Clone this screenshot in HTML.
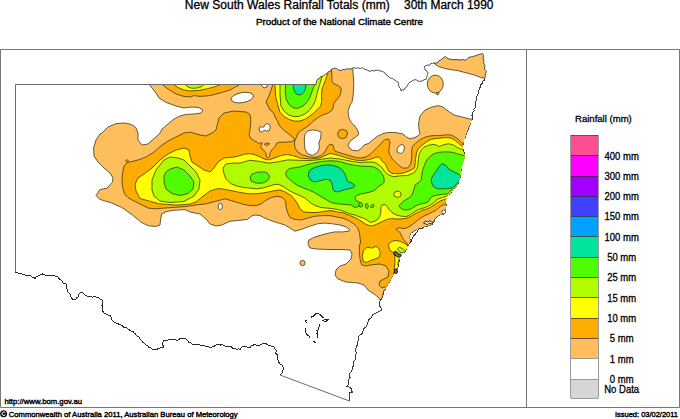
<!DOCTYPE html>
<html><head><meta charset="utf-8"><style>
html,body{margin:0;padding:0;background:#fff;}
svg{display:block;font-family:"Liberation Sans",sans-serif;}
.lg{font-size:10px;fill:#000;stroke:#000;stroke-width:0.3px;}
.tt{fill:#000;stroke:#000;stroke-width:0.25px;}
</style></head><body>
<svg width="680" height="419" viewBox="0 0 680 419">
<defs><clipPath id="nsw"><polygon points="15.5,84.5 316.0,84.5 317.8,79.1 322.5,76.3 327.1,73.6 330.2,71.3 331.8,69.0 334.9,68.2 338.0,70.0 341.0,70.6 345.0,69.8 350.0,68.8 355.0,68.0 356.0,68.4 362.0,67.6 365.0,69.4 369.0,71.0 375.0,70.4 380.0,71.0 385.0,73.0 388.0,76.0 390.0,78.0 394.0,79.6 398.0,82.0 399.0,87.0 401.0,91.0 404.0,90.0 407.0,86.0 410.0,82.0 415.0,79.6 418.0,81.0 421.0,81.0 426.0,79.6 427.0,76.0 428.0,73.0 425.0,70.0 424.0,67.0 428.0,65.0 434.0,63.0 438.0,62.4 442.0,59.0 444.0,57.0 447.0,58.0 450.0,59.0 454.0,59.6 458.0,59.6 462.0,59.5 465.0,60.3 468.8,57.4 470.7,57.0 474.6,56.0 477.4,55.0 480.3,54.1 482.7,53.6 483.6,55.5 484.1,64.1 485.1,69.8 486.5,71.3 485.5,73.7 485.0,78.0 484.1,80.3 482.0,83.5 479.0,90.0 477.0,96.0 477.0,99.0 475.0,106.0 473.0,114.0 472.0,120.0 470.0,125.0 468.1,128.0 466.2,134.2 463.8,141.8 462.5,146.8 463.1,151.8 465.0,156.1 463.8,160.5 461.9,165.5 460.6,171.8 460.6,175.0 458.8,181.2 456.2,186.2 452.5,190.0 450.0,193.8 447.6,195.0 445.9,200.0 445.1,203.3 446.3,204.2 445.9,206.7 445.5,210.0 445.1,212.5 443.4,214.2 440.0,214.8 437.0,216.6 434.6,219.0 433.4,221.9 432.2,224.3 429.9,225.5 426.9,226.1 423.9,226.7 420.3,227.9 419.7,228.0 416.7,229.2 413.7,231.0 410.7,233.3 409.5,235.7 409.8,238.7 410.7,240.5 410.1,242.3 408.9,244.1 407.8,245.9 407.3,246.7 404.8,251.7 401.5,254.5 399.8,256.6 398.6,262.8 397.4,267.8 394.9,271.5 393.0,275.0 391.1,279.0 389.0,282.5 387.4,285.2 384.9,290.0 384.0,291.0 383.0,295.0 382.0,298.0 380.0,301.0 379.0,305.0 381.0,308.0 382.0,310.0 378.0,312.0 374.0,314.0 371.0,318.0 368.0,322.0 366.0,327.0 363.0,331.0 360.0,335.0 358.5,337.0 357.0,342.0 356.0,348.0 356.0,356.0 354.0,364.0 351.0,372.0 349.0,379.0 348.6,382.9 347.9,385.0 346.8,386.4 350.0,387.2 351.5,389.3 352.2,392.2 349.7,392.5 349.3,394.3 349.3,398.6 349.7,401.1 280.0,375.0 281.0,374.0 282.0,371.0 284.0,369.0 283.0,367.0 280.0,364.0 278.0,360.0 277.0,356.0 276.0,350.0 274.0,347.0 270.0,345.0 266.0,343.6 262.0,344.0 258.0,345.0 254.0,344.4 250.0,347.6 244.0,346.4 240.0,349.6 234.0,348.4 228.0,346.4 222.0,344.4 216.0,345.0 212.0,347.0 206.0,346.4 200.0,345.0 196.0,344.4 192.0,344.0 188.0,341.0 183.0,338.0 178.0,340.0 170.0,339.0 164.0,340.0 162.0,343.0 163.0,348.0 161.0,347.0 158.0,348.6 155.0,350.0 150.0,347.6 146.0,345.0 142.0,341.0 139.0,337.0 134.0,333.0 130.0,330.5 127.0,328.0 121.0,325.0 116.0,323.0 113.0,321.0 111.0,317.0 108.0,315.0 104.0,313.0 102.6,309.0 103.0,302.0 100.0,299.0 96.0,297.0 91.0,296.6 87.0,296.0 84.0,294.0 82.0,292.0 79.0,294.0 78.0,297.0 76.0,299.4 73.0,299.4 71.0,297.0 68.0,292.0 66.0,288.0 66.0,284.0 63.0,283.0 61.0,280.0 58.0,277.0 53.0,275.0 47.0,275.0 41.0,274.6 38.0,276.0 35.0,278.6 32.0,277.0 27.0,275.0 21.0,273.4 15.5,272.6"/></clipPath></defs>
<rect x="0" y="0" width="680" height="419" fill="#fff"/>
<text x="184.8" y="9" class="tt" textLength="205" lengthAdjust="spacingAndGlyphs" style="font-size:12px;stroke-width:0.3px">New South Wales Rainfall Totals (mm)</text>
<text x="404" y="9" class="tt" textLength="89.5" lengthAdjust="spacingAndGlyphs" style="font-size:12px;stroke-width:0.3px">30th March 1990</text>
<text x="256" y="25.3" class="tt" textLength="167" lengthAdjust="spacingAndGlyphs" style="font-size:9.75px;stroke-width:0.4px">Product of the National Climate Centre</text>
<path d="M485.0,78.0 L484.1,80.3 L482.5,81.5 L482.0,83.5 L480.8,84.9 L480.5,86.8 L479.5,88.3 L479.0,90.0 L478.0,91.3 L478.6,93.2 L477.3,94.4 L477.0,96.0 L476.3,97.5 L477.0,99.0 L476.1,100.6 L475.6,102.4 L475.5,104.3 L475.0,106.0 L475.1,107.7 L473.8,109.1 L474.1,110.9 L472.9,112.3 L473.0,114.0 L472.0,115.4 L472.7,117.0 L472.4,118.5 L472.0,120.0 L470.7,121.4 L470.3,123.2 L470.0,125.0 L469.5,126.8 L468.1,128.0 L468.2,129.7 L467.7,131.3 L466.1,132.5 L466.2,134.2 L465.3,135.6 L465.8,137.4 L464.3,138.6 L463.5,140.0 L463.8,141.8 L463.1,143.4 L463.1,145.1 L462.5,146.8 L462.6,148.4 L463.5,150.0 L463.1,151.8 L464.4,152.9 L463.7,155.0 L465.0,156.1 L464.4,157.5 L464.1,159.0 L463.8,160.5 L462.5,161.9 L462.6,163.9 L461.9,165.5 L461.0,166.9 L460.7,168.5 L461.4,170.3 L460.6,171.8 L461.0,173.4 L460.6,175.0 L460.5,176.7 L460.1,178.2 L459.1,179.6 L458.8,181.2 L458.3,183.1 L457.2,184.6 L456.2,186.2 L455.4,187.9 L453.3,188.3 L452.5,190.0 L451.9,191.4 L450.9,192.5 L450.0,193.8 L447.6,195.0 L446.9,196.6 L445.9,198.1 L445.9,200.0 L445.6,201.7 L445.1,203.3 L446.3,204.2 L445.9,206.7 L445.0,208.3 L445.5,210.0 L445.1,212.5 L443.4,214.2 L441.7,214.5 L440.0,214.8 L438.5,215.7 L437.0,216.6 L435.8,217.8 L434.6,219.0 L434.7,220.7 L433.4,221.9 L432.2,224.3 L429.9,225.5 L428.4,225.9 L426.9,226.1 L425.5,226.9 L423.9,226.7 L422.4,228.1 L420.3,227.9 L419.7,228.0 L418.0,228.2 L416.7,229.2 L415.5,230.5 L413.7,231.0 L412.2,232.2 L410.7,233.3 L409.5,235.7 L409.3,237.2 L409.8,238.7 L410.7,240.5 L410.1,242.3 L408.9,244.1 L407.8,245.9 L407.3,246.7 L406.4,248.3 L405.9,250.2 L404.8,251.7 L403.1,253.1 L401.5,254.5 L399.8,256.6 L399.4,258.1 L398.8,259.6 L399.5,261.4 L398.6,262.8 L398.1,264.4 L398.2,266.2 L397.4,267.8 L396.4,269.8 L394.9,271.5 L393.6,273.0 L393.0,275.0 L392.0,277.0 L391.1,279.0 L390.0,280.7 L389.0,282.5 L387.8,283.6 L387.4,285.2 L386.0,286.5 L385.8,288.4 L384.9,290.0 L384.0,291.0 L383.3,293.0 L383.0,295.0 L382.5,296.5 L382.0,298.0 L381.0,299.5 L380.0,301.0 L379.2,302.9 L379.0,305.0 L380.1,306.5 L381.0,308.0 L382.0,310.0 L380.0,311.0 L378.0,312.0 L376.0,313.0 L374.0,314.0 L372.4,314.9 L371.7,316.5 L371.0,318.0 L369.5,319.0 L368.4,320.2 L368.0,322.0 L367.7,323.8 L366.6,325.3 L366.0,327.0 L364.4,327.9 L363.6,329.3 L363.0,331.0 L362.5,332.7 L361.5,334.0 L360.0,335.0 L358.5,337.0 L358.1,338.7 L358.2,340.5 L357.0,342.0 L357.2,343.6 L357.2,345.1 L356.0,346.5 L356.0,348.0 L355.5,349.6 L355.4,351.2 L356.6,352.8 L355.7,354.4 L356.0,356.0 L355.4,357.5 L355.8,359.3 L354.2,360.7 L353.7,362.2 L354.0,364.0 L353.8,365.8 L352.1,366.9 L352.4,368.9 L351.6,370.4 L351.0,372.0 L349.7,373.5 L349.5,375.4 L350.0,377.4 L349.0,379.0 L348.9,381.0 L348.6,382.9 L347.9,385.0 L346.8,386.4 L348.4,386.8 L350.0,387.2 L351.5,389.3 L352.2,392.2 L349.7,392.5 L349.3,394.3 L349.6,396.5 L349.3,398.6 L349.7,401.1" fill="none" stroke="#3a3a3a" stroke-width="1" shape-rendering="crispEdges"/>
<g clip-path="url(#nsw)">
<polygon points="149.0,60.0 149.0,84.4 152.0,88.0 156.0,93.0 159.0,98.0 166.0,102.4 176.0,106.0 184.0,108.0 192.0,107.0 199.0,107.6 203.0,110.0 201.0,113.0 194.0,114.0 186.0,114.4 180.0,116.0 174.0,119.0 168.0,124.0 162.0,129.0 160.0,133.0 156.0,137.0 154.0,138.5 148.0,144.0 142.0,145.0 138.0,140.0 138.0,133.0 136.0,128.0 134.0,126.0 130.0,124.0 124.0,123.0 116.0,123.6 108.0,127.0 102.0,133.0 100.0,134.0 96.0,140.0 93.6,148.0 94.0,156.0 98.0,162.0 104.0,168.0 110.0,173.0 113.0,178.0 112.2,182.4 107.0,188.2 99.7,189.7 96.0,195.6 99.7,199.3 111.5,202.9 121.8,207.4 132.1,214.7 140.9,222.1 148.2,225.7 155.6,226.5 160.0,225.0 160.7,219.1 161.5,214.0 165.9,211.8 173.2,210.3 185.0,209.6 190.0,212.0 200.0,214.0 206.0,219.0 210.0,224.0 216.0,226.0 222.0,225.0 230.0,221.2 237.5,220.6 247.5,219.4 251.2,216.2 255.0,215.0 260.0,215.6 265.0,218.1 272.5,221.2 278.8,223.1 285.0,225.0 290.0,228.0 295.0,231.2 301.2,229.4 310.0,226.2 317.5,223.8 325.0,223.1 332.5,223.8 340.0,225.0 346.2,226.9 349.4,229.4 348.8,231.2 342.5,231.9 335.0,231.9 328.8,233.1 321.2,235.0 313.8,237.5 308.8,240.0 308.0,244.0 310.0,248.0 316.0,249.0 330.0,249.5 342.0,249.5 350.0,250.0 352.0,254.0 351.0,259.0 346.0,264.0 340.0,266.0 336.0,270.0 335.0,275.0 338.0,279.0 346.0,282.0 358.0,283.0 364.0,285.0 368.0,290.0 374.0,294.0 378.0,297.0 380.0,300.0 382.0,298.0 383.0,294.0 384.0,290.0 400.0,300.0 500.0,250.0 500.0,119.0 470.0,119.0 462.0,117.0 454.0,115.0 448.0,111.0 443.0,107.0 438.0,105.6 432.0,107.0 425.0,110.0 420.0,116.0 418.5,124.0 419.0,129.0 420.0,133.8 418.8,135.0 415.0,137.5 410.0,138.8 406.2,136.9 402.5,133.8 395.0,132.5 387.5,132.5 382.5,133.8 377.5,136.2 372.5,140.0 369.1,143.1 364.0,145.1 360.9,148.7 357.8,150.8 352.6,150.3 349.6,148.2 348.0,145.1 350.0,141.2 355.0,137.5 358.8,134.4 358.1,131.2 355.0,126.2 351.2,122.5 348.8,117.5 348.1,111.2 350.0,105.0 351.9,102.5 353.1,96.2 353.8,83.8 353.1,73.8 352.5,60.0" fill="#FFBE5C" stroke="#3a3a1a" stroke-width="0.8"/>
<polygon points="434.7,64.0 438.5,66.5 444.2,68.4 450.0,69.5 458.0,70.7 466.0,72.8 470.0,73.8 474.6,75.1 479.3,77.0 484.1,78.4 486.0,79.0 495.0,79.0 495.0,45.0 430.0,45.0" fill="#FFBE5C" stroke="#3a3a1a" stroke-width="0.8"/>
<polygon points="259.0,127.9 260.7,126.8 263.6,127.2 265.0,124.7 267.2,123.6 269.7,124.7 270.2,127.9 269.0,130.8 266.5,131.1 264.3,130.0 262.2,132.2 259.7,131.5" fill="#FFFFFF" stroke="#3a3a1a" stroke-width="0.8"/>
<polygon points="305.0,134.2 307.5,131.0 312.5,129.9 317.5,130.5 321.2,132.4 320.6,138.0 318.8,143.0 319.4,148.0 317.5,152.4 312.5,155.5 307.5,153.6 305.0,149.2 304.4,143.0 304.4,138.0" fill="#FFFFFF" stroke="#3a3a1a" stroke-width="0.8"/>
<polygon points="396.9,149.2 398.8,146.1 402.5,144.2 404.4,146.8 403.8,151.1 401.2,153.6 397.5,152.4" fill="#FFFFFF" stroke="#3a3a1a" stroke-width="0.8"/>
<polygon points="260.0,80.0 261.0,85.0 264.0,88.0 267.0,87.0 268.0,80.0" fill="#FFFFFF" stroke="#3a3a1a" stroke-width="0.8"/>
<polygon points="436.2,92.5 437.2,95.0 438.8,94.2 439.0,91.8" fill="#FFBE5C" stroke="#3a3a1a" stroke-width="0.8"/>
<ellipse cx="435.3" cy="84.1" rx="8.0" ry="9.0" fill="#FFBE5C" stroke="#3a3a1a" stroke-width="0.8"/>
<ellipse cx="242.3" cy="97.6" rx="11.4" ry="5.0" transform="rotate(-10 242.3 97.6)" fill="#FFFFFF" stroke="#3a3a1a" stroke-width="0.8"/>
<ellipse cx="220.3" cy="206.5" rx="2.0" ry="3.3" fill="#FFFFFF" stroke="#3a3a1a" stroke-width="0.8"/>
<ellipse cx="302.5" cy="263" rx="2.6" ry="2.6" fill="#FFBE5C" stroke="#3a3a1a" stroke-width="0.8"/>
<ellipse cx="443.8" cy="211.9" rx="2.0" ry="1.9" fill="#FFFFFF" stroke="#3a3a1a" stroke-width="0.8"/>
<ellipse cx="363.3" cy="239.1" rx="0.8" ry="0.8" fill="#FFAC00" stroke="#3a3a1a" stroke-width="0.8"/>
<polygon points="160.0,70.0 160.0,84.4 162.0,84.4 168.0,89.0 176.0,94.0 184.0,96.4 190.0,97.0 194.0,95.6 200.0,96.4 210.0,95.6 220.0,93.0 230.0,90.0 239.0,85.0 240.0,70.0" fill="#FFAC00" stroke="#3a3a1a" stroke-width="0.8"/>
<polygon points="273.0,70.0 273.0,84.0 271.0,90.0 269.0,96.0 266.0,102.0 268.0,106.0 270.0,110.0 273.0,112.0 274.3,115.0 275.8,118.6 277.9,121.4 278.6,124.3 280.8,127.2 283.6,130.0 286.0,132.0 288.8,134.0 293.8,138.0 295.0,140.0 296.2,138.0 298.0,133.0 301.2,130.5 305.0,128.0 309.1,125.0 313.5,121.1 318.0,117.6 322.4,115.0 327.7,113.2 331.2,111.0 333.0,107.9 333.8,103.5 336.5,99.9 339.0,97.0 340.6,93.8 341.2,88.1 338.1,85.6 333.8,83.8 331.9,81.2 331.9,75.0 331.2,65.0" fill="#FFAC00" stroke="#3a3a1a" stroke-width="0.8"/>
<polygon points="128.0,162.0 130.0,162.0 138.0,160.0 146.0,157.0 154.0,152.0 162.0,145.0 170.0,140.0 178.0,136.0 184.0,133.0 190.0,132.0 200.0,135.0 206.0,136.0 212.0,133.0 216.0,130.0 219.0,118.0 224.0,113.0 234.0,111.0 246.0,112.0 249.5,114.0 250.7,118.0 250.7,125.0 250.0,129.8 249.1,134.6 250.5,138.4 254.3,140.8 257.2,142.2 258.6,143.6 260.5,142.7 262.4,143.1 260.5,146.0 262.0,148.9 264.8,151.3 266.3,153.7 265.8,156.0 267.7,158.0 269.6,156.5 270.1,152.7 272.0,149.8 274.4,147.4 275.8,145.5 276.8,143.1 280.1,142.2 285.8,142.2 291.6,141.7 295.0,140.0 294.4,143.0 295.0,148.0 297.5,151.8 302.5,154.9 308.8,156.8 315.0,157.4 321.2,155.5 325.0,151.8 327.5,146.8 330.0,144.1 333.1,145.1 334.1,149.3 335.1,151.3 340.3,152.9 345.4,154.4 350.6,156.0 355.7,157.5 360.9,158.0 366.0,157.0 370.1,154.4 373.2,151.3 377.4,147.2 381.5,143.1 385.0,139.5 388.8,139.2 390.0,143.0 388.8,149.2 389.4,154.2 392.5,159.2 397.5,164.2 402.5,168.0 407.5,168.0 410.6,164.2 411.9,156.8 411.7,150.0 412.6,146.2 415.5,143.3 419.3,140.4 424.1,137.6 428.9,136.1 433.7,135.6 438.5,135.6 443.2,135.2 448.0,134.7 451.8,135.2 455.7,137.6 459.5,140.4 462.4,143.3 463.3,145.2 470.0,148.0 470.0,203.0 446.3,203.5 445.1,204.5 441.7,205.5 438.4,208.0 435.8,210.6 432.8,211.8 429.9,213.3 426.9,214.8 423.9,216.0 420.9,217.8 417.9,220.1 414.9,222.5 411.9,224.9 409.0,226.7 406.0,228.2 403.0,228.5 400.0,227.9 397.2,228.0 396.0,229.2 398.4,231.0 400.7,233.4 401.9,237.0 404.3,240.6 406.7,243.0 407.9,245.3 415.0,246.0 395.0,287.0 385.0,287.0 382.0,288.0 379.0,285.0 380.0,281.0 384.0,279.0 388.0,277.0 389.0,271.0 386.0,266.0 380.0,264.0 370.0,265.0 366.0,266.0 362.0,265.0 361.2,263.8 360.0,258.8 359.4,252.5 359.4,246.2 360.6,242.0 360.0,237.5 359.4,232.5 357.5,227.5 353.8,223.8 348.8,220.6 342.5,218.1 336.2,216.9 330.0,215.6 322.5,215.6 315.0,216.2 307.5,218.1 301.2,220.0 295.0,219.4 290.0,217.5 287.5,212.5 286.2,207.5 285.6,201.2 282.5,197.5 277.5,196.2 271.2,197.5 266.2,200.0 261.2,203.8 256.2,205.6 250.0,205.6 243.8,204.4 237.5,202.5 231.2,200.6 225.0,198.8 215.0,201.5 205.0,204.0 196.0,205.0 185.0,206.6 173.2,207.4 164.4,208.1 155.6,208.8 148.2,208.1 140.9,204.4 132.1,200.0 128.0,197.5 124.7,194.1 122.5,186.8 122.0,180.0 122.4,174.0 124.0,166.0" fill="#FFAC00" stroke="#3a3a1a" stroke-width="0.8"/>
<polygon points="337.5,134.0 339.0,130.5 342.5,129.4 346.5,130.5 347.5,134.0 346.0,137.5 342.5,138.8 339.0,137.5" fill="#FFAC00" stroke="#3a3a1a" stroke-width="0.8"/>
<polygon points="264.4,144.0 266.0,143.0 269.4,143.5 268.5,145.0 265.5,145.3" fill="#FFAC00" stroke="#3a3a1a" stroke-width="0.8"/>
<polygon points="125.5,161.0 127.0,159.5 128.5,161.0 127.0,162.5" fill="#FFAC00" stroke="#3a3a1a" stroke-width="0.8"/>
<polygon points="172.0,70.0 173.5,84.4 178.0,87.5 184.0,90.0 190.0,91.0 198.0,90.5 206.0,89.0 214.0,87.0 221.0,84.4 222.0,70.0" fill="#FFFF00" stroke="#3a3a1a" stroke-width="0.8"/>
<polygon points="184.0,70.0 185.0,84.4 188.0,87.0 192.0,88.3 197.0,88.0 202.0,86.5 204.0,84.4 204.0,70.0" fill="#B2FC00" stroke="#3a3a1a" stroke-width="0.8"/>
<polygon points="275.0,70.0 275.0,84.4 275.6,96.2 277.5,103.8 280.0,112.3 284.4,116.7 288.8,119.4 294.1,121.1 299.4,121.1 304.7,119.4 309.1,116.7 313.5,113.2 317.1,109.7 320.6,106.1 321.9,100.8 321.5,95.5 321.9,90.0 322.5,87.5 325.0,81.2 326.9,76.2 327.8,73.0 327.5,65.0" fill="#FFFF00" stroke="#3a3a1a" stroke-width="0.8"/>
<polygon points="135.0,185.0 136.0,182.0 138.0,178.0 144.0,174.0 152.0,168.0 160.0,160.0 168.0,154.0 176.0,150.0 184.0,148.0 189.0,150.0 190.0,156.0 192.0,162.0 198.0,166.0 204.0,170.0 210.0,172.0 214.0,168.0 218.0,162.0 224.0,158.0 234.0,157.0 240.0,155.6 244.8,154.1 249.6,153.7 254.3,154.6 259.1,156.5 263.9,158.9 268.7,159.9 273.4,158.4 278.2,156.5 283.0,155.1 287.8,154.6 292.5,155.6 297.3,157.0 300.0,158.0 310.0,159.0 320.0,158.0 330.0,153.4 335.1,154.4 340.3,156.0 345.4,157.5 350.6,159.0 355.7,160.1 360.9,160.6 366.0,160.1 371.2,159.0 375.3,157.5 378.4,157.0 380.4,158.5 382.5,161.6 385.0,163.5 386.7,166.7 388.4,170.9 391.7,173.4 395.9,173.8 403.8,173.0 410.0,170.5 414.6,168.0 415.5,159.5 416.5,152.9 418.4,148.6 422.2,145.2 427.0,141.4 431.8,139.0 436.5,138.5 441.3,138.0 446.1,137.6 450.9,138.0 454.7,140.0 458.5,143.3 462.4,146.2 463.3,147.1 475.0,148.0 470.0,199.0 445.9,199.0 443.4,199.8 440.1,201.0 436.7,203.0 434.2,205.0 430.0,207.6 425.9,209.3 422.7,210.0 420.3,211.2 417.9,212.4 414.9,213.9 411.9,215.7 409.0,217.2 406.0,218.4 403.0,218.7 400.0,219.0 398.2,219.0 394.4,218.7 390.5,218.7 386.7,219.4 382.9,221.3 379.1,223.2 375.3,224.8 372.2,225.9 369.2,225.5 366.1,224.4 361.2,221.2 356.2,218.1 350.0,215.6 343.8,213.1 337.5,211.9 331.2,210.6 325.0,211.2 317.5,212.5 310.0,212.5 303.8,211.9 300.0,208.8 297.5,203.8 295.0,200.0 291.2,195.6 285.0,191.9 280.0,190.0 275.0,190.6 268.8,191.9 262.5,193.1 256.2,193.8 250.0,193.8 243.8,193.1 237.5,191.9 231.2,190.6 225.0,189.4 218.0,188.5 210.0,191.0 202.0,197.0 196.0,202.0 190.0,204.0 185.0,204.6 176.2,205.1 167.4,204.4 158.5,203.7 148.0,200.7 140.0,198.5 136.0,191.0" fill="#FFFF00" stroke="#3a3a1a" stroke-width="0.8"/>
<polygon points="362.5,256.1 363.3,250.8 366.9,247.2 372.3,248.1 375.9,246.3 378.6,248.1 380.3,252.6 379.4,257.0 375.9,258.8 370.5,260.6 366.9,262.4 363.3,261.5" fill="#FFFF00" stroke="#3a3a1a" stroke-width="0.8"/>
<polygon points="388.7,244.2 391.1,241.7 394.9,240.5 399.8,241.1 404.8,243.6 408.0,246.0 410.0,250.0 403.0,256.0 400.0,262.0 398.5,268.0 396.0,272.0 394.3,269.1 394.9,262.8 394.9,256.6 393.6,252.9 389.9,250.4 388.7,246.7" fill="#FFFF00" stroke="#3a3a1a" stroke-width="0.8"/>
<polygon points="280.0,70.0 280.0,84.4 280.0,95.0 280.9,106.1 284.4,111.4 288.8,115.0 294.1,116.7 299.4,116.3 304.7,114.1 309.1,110.5 312.7,106.1 315.3,100.8 316.6,95.5 318.0,90.0 319.5,85.0 321.0,80.0 322.0,76.0 322.0,65.0" fill="#B2FC00" stroke="#3a3a1a" stroke-width="0.8"/>
<polygon points="152.0,190.0 152.0,180.0 156.0,170.0 164.0,160.0 170.0,157.0 178.0,158.0 184.0,160.0 190.0,166.0 196.0,172.0 200.0,180.0 199.0,189.0 194.0,196.0 184.0,201.5 170.0,202.5 160.0,201.0 154.0,196.0" fill="#B2FC00" stroke="#3a3a1a" stroke-width="0.8"/>
<polygon points="224.0,174.0 223.0,168.0 226.0,164.0 234.0,163.0 240.0,163.2 249.6,160.3 259.1,161.3 268.7,163.2 278.2,161.8 287.8,159.9 300.0,160.3 310.0,160.5 320.0,159.5 330.0,158.0 340.0,159.0 350.0,161.0 360.0,162.5 366.7,162.1 373.4,162.1 376.7,163.3 380.0,165.8 382.5,168.3 385.0,171.7 387.5,174.2 390.9,175.9 394.2,176.7 400.0,175.8 407.5,175.5 413.8,173.0 417.4,168.0 418.4,159.5 419.3,153.8 421.3,150.0 424.1,147.1 428.9,145.2 433.7,144.3 436.5,145.2 439.4,146.6 441.3,145.7 445.2,144.3 449.0,143.8 452.8,144.7 456.6,147.1 460.4,149.0 463.3,150.0 475.0,150.0 470.0,195.0 447.6,195.0 445.9,196.3 442.6,197.5 438.4,198.8 435.9,200.5 433.4,203.2 430.0,205.2 425.9,207.3 421.7,208.5 417.3,210.0 414.9,211.8 411.9,213.6 409.0,215.4 406.0,216.6 403.0,216.3 400.0,216.0 395.9,214.8 392.1,212.6 389.0,209.5 387.1,206.5 385.2,204.5 382.1,204.9 380.6,208.0 381.0,211.8 379.8,216.4 377.6,219.4 375.3,221.0 373.0,221.7 370.7,222.5 368.4,221.0 366.1,219.4 363.1,217.9 360.0,217.1 355.0,215.0 350.0,213.8 345.0,211.9 340.0,210.0 333.8,208.8 327.5,208.1 321.2,207.5 315.0,205.6 310.0,202.5 305.0,198.1 300.0,195.6 295.0,193.5 290.0,191.0 283.8,186.9 278.8,184.4 275.0,184.4 268.8,186.2 262.5,188.1 256.2,188.8 250.0,188.1 243.8,187.5 237.5,186.2 231.2,183.8 226.0,179.0" fill="#B2FC00" stroke="#3a3a1a" stroke-width="0.8"/>
<polygon points="393.8,193.8 395.0,191.9 398.8,191.2 401.2,193.1 400.6,196.2 397.5,197.5 394.4,196.2" fill="#FFFF00" stroke="#3a3a1a" stroke-width="0.8"/>
<polygon points="397.4,249.2 399.2,247.3 403.0,248.6 404.8,250.4 403.0,252.9 399.8,252.3" fill="#B2FC00" stroke="#3a3a1a" stroke-width="0.8"/>
<polygon points="285.6,70.0 285.6,84.4 285.3,92.0 286.2,99.1 288.8,104.4 293.2,107.9 297.7,108.3 302.9,106.1 307.4,101.7 310.0,97.3 311.8,92.0 313.5,87.5 315.5,83.0 316.0,78.0 316.0,65.0" fill="#50FC00" stroke="#3a3a1a" stroke-width="0.8"/>
<polygon points="164.0,182.0 164.0,176.0 166.0,172.0 170.0,169.0 177.0,167.0 184.0,170.0 190.0,176.0 194.0,182.0 193.0,189.0 188.0,193.5 180.0,195.5 172.0,193.5 166.0,189.0" fill="#50FC00" stroke="#3a3a1a" stroke-width="0.8"/>
<polygon points="250.0,177.0 252.0,174.0 258.0,172.0 266.0,172.0 269.0,175.0 269.4,177.5 267.5,180.6 262.5,183.1 256.2,183.1 251.2,181.2" fill="#50FC00" stroke="#3a3a1a" stroke-width="0.8"/>
<polygon points="285.5,174.0 287.0,170.5 290.0,168.3 295.0,167.8 300.3,166.8 305.4,165.2 310.6,163.7 315.7,162.6 320.9,161.6 326.0,161.1 331.0,160.8 336.0,161.0 341.0,162.0 346.0,163.5 351.0,164.7 356.0,165.5 360.0,166.0 364.2,166.3 368.3,166.3 372.5,166.7 375.9,167.9 378.4,169.6 380.9,172.1 382.5,174.6 383.8,177.1 384.2,180.0 383.8,182.5 382.1,184.6 380.0,185.5 377.5,187.5 375.9,189.2 373.4,190.9 370.0,192.1 365.8,193.0 361.2,193.8 356.2,195.6 355.0,198.1 356.2,200.6 360.0,202.5 361.2,204.4 358.8,206.2 356.2,207.5 353.8,206.9 351.2,205.0 345.0,204.4 337.5,203.8 331.2,202.5 326.0,199.5 320.0,196.0 314.5,192.5 308.5,189.9 303.4,187.9 298.2,185.8 294.1,183.2 290.0,179.6 287.0,177.0" fill="#50FC00" stroke="#3a3a1a" stroke-width="0.8"/>
<polygon points="421.2,180.0 422.5,170.5 424.1,166.2 425.1,163.4 427.0,159.5 429.9,156.7 433.7,153.8 438.5,152.4 443.2,151.9 448.0,151.9 452.8,152.4 457.6,153.8 461.4,154.8 464.3,155.7 475.0,160.0 470.0,185.0 451.9,189.4 450.0,191.2 447.5,193.8 442.5,194.4 437.5,195.0 432.5,196.2 430.0,198.8 427.5,202.5 421.2,203.8 416.2,205.6 411.2,208.8 407.3,209.9 404.3,209.9 401.2,208.7 398.9,205.7 402.0,202.6 405.8,199.6 408.8,198.1 411.9,195.0 413.8,190.0 415.0,185.0 418.8,182.5" fill="#50FC00" stroke="#3a3a1a" stroke-width="0.8"/>
<polygon points="360.0,202.6 362.3,203.5 362.3,206.5 360.0,207.2 358.5,205.0" fill="#50FC00" stroke="#3a3a1a" stroke-width="0.8"/>
<polygon points="365.3,204.0 367.0,203.4 368.4,206.0 367.5,208.7 365.6,207.5" fill="#50FC00" stroke="#3a3a1a" stroke-width="0.8"/>
<polygon points="370.7,206.0 372.5,204.2 374.1,205.0 373.0,207.6 371.0,207.5" fill="#50FC00" stroke="#3a3a1a" stroke-width="0.8"/>
<polygon points="293.1,80.0 293.1,85.0 293.8,90.0 296.2,93.8 299.4,95.0 302.5,93.8 305.0,90.0 306.2,85.0 306.2,80.0" fill="#00E49C" stroke="#3a3a1a" stroke-width="0.8"/>
<polygon points="308.3,176.0 309.0,171.2 312.0,168.6 316.8,166.8 322.0,165.6 327.5,164.8 333.5,165.5 338.8,167.4 342.5,170.2 344.8,173.5 346.0,177.5 347.8,181.5 352.0,183.2 355.0,185.6 353.5,187.6 349.5,188.6 344.0,190.0 338.0,191.8 334.5,191.5 332.8,188.5 332.0,184.0 330.5,180.5 327.5,179.3 324.0,179.6 318.8,181.2 313.7,181.8 310.1,179.8" fill="#00E49C" stroke="#3a3a1a" stroke-width="0.8"/>
<polygon points="431.2,178.8 433.8,174.2 437.5,169.2 440.0,165.5 442.5,163.6 446.2,165.5 448.8,169.2 453.8,171.8 458.8,174.2 462.0,177.0 457.5,182.5 455.0,186.2 451.2,188.1 445.0,188.8 437.5,188.8 433.8,186.9 431.9,183.8" fill="#00E49C" stroke="#3a3a1a" stroke-width="0.8"/>
</g>
<path d="M15.5,272.6 V84.5 H316 M349.7,401.1 L280,375" fill="none" stroke="#6a6a6a" stroke-width="1"/><path d="M316.0,84.5 L316.3,82.6 L316.7,80.7 L317.8,79.1 L319.5,78.4 L320.6,76.6 L322.5,76.3 L324.1,75.4 L325.5,74.3 L327.1,73.6 L328.2,71.9 L330.2,71.3 L331.8,69.0 L333.4,68.6 L334.9,68.2 L336.8,68.5 L338.0,70.0 L339.5,70.2 L341.0,70.6 L342.9,69.5 L345.0,69.8 L346.5,68.8 L348.3,69.0 L350.0,68.8 L351.7,69.0 L353.2,67.7 L355.0,68.0 L356.0,68.4 L357.4,67.8 L359.0,68.2 L360.6,68.5 L362.0,67.6 L363.4,68.6 L365.0,69.4 L367.1,70.0 L369.0,71.0 L370.6,71.6 L371.9,70.0 L373.6,71.1 L375.0,70.4 L376.7,70.3 L378.4,70.2 L380.0,71.0 L381.9,71.1 L383.4,72.0 L385.0,73.0 L386.1,74.9 L388.0,76.0 L390.0,78.0 L392.2,78.3 L394.0,79.6 L395.3,80.5 L396.6,81.4 L398.0,82.0 L398.5,83.6 L398.6,85.3 L399.0,87.0 L400.6,88.7 L401.0,91.0 L402.3,89.8 L404.0,90.0 L404.6,88.4 L406.2,87.5 L407.0,86.0 L407.9,84.6 L408.8,83.2 L410.0,82.0 L411.7,81.3 L413.3,80.3 L415.0,79.6 L416.6,80.0 L418.0,81.0 L419.5,81.5 L421.0,81.0 L422.8,80.8 L424.2,79.7 L426.0,79.6 L426.6,77.8 L427.0,76.0 L427.5,74.5 L428.0,73.0 L426.9,71.1 L425.0,70.0 L424.8,68.4 L424.0,67.0 L425.8,65.7 L428.0,65.0 L429.7,65.2 L430.8,63.4 L432.5,63.4 L434.0,63.0 L436.1,63.1 L438.0,62.4 L439.0,60.8 L440.7,60.1 L442.0,59.0 L444.0,57.0 L445.7,56.8 L447.0,58.0 L448.4,58.8 L450.0,59.0 L451.9,59.7 L454.0,59.6 L456.0,59.7 L458.0,59.6 L460.0,60.2 L462.0,59.5 L463.6,59.6 L465.0,60.3 L466.5,59.6 L467.6,58.5 L468.8,57.4 L470.7,57.0 L472.7,56.6 L474.6,56.0 L477.4,55.0 L478.8,54.5 L480.3,54.1 L482.7,53.6 L483.6,55.5 L483.2,57.3 L483.1,59.0 L483.9,60.7 L483.7,62.4 L484.1,64.1 L485.1,65.9 L484.4,68.0 L485.1,69.8 L486.5,71.3 L485.5,73.7 L485.0,75.8 L485.0,78.0" fill="none" stroke="#3a3a3a" stroke-width="0.9"/><path d="M280.0,375.0 L281.0,374.0 L282.2,372.7 L282.0,371.0 L284.0,369.0 L283.0,367.0 L281.9,365.1 L280.0,364.0 L278.7,362.2 L278.0,360.0 L277.3,358.0 L277.0,356.0 L277.0,354.5 L275.7,353.1 L276.2,351.5 L276.0,350.0 L274.6,348.8 L274.0,347.0 L271.7,346.5 L270.0,345.0 L267.8,345.0 L266.0,343.6 L264.0,343.4 L262.0,344.0 L260.1,345.1 L258.0,345.0 L255.9,345.1 L254.0,344.4 L252.8,345.6 L251.0,346.1 L250.0,347.6 L248.4,348.0 L247.0,347.1 L245.5,346.6 L244.0,346.4 L242.3,347.0 L241.0,348.1 L240.0,349.6 L238.6,348.7 L236.9,349.3 L235.5,348.8 L234.0,348.4 L232.4,348.1 L231.2,346.8 L229.7,346.2 L228.0,346.4 L226.3,346.4 L224.8,345.9 L223.4,345.3 L222.0,344.4 L220.5,345.0 L219.0,344.7 L217.5,344.7 L216.0,345.0 L214.2,346.3 L212.0,347.0 L210.4,347.6 L209.0,346.8 L207.5,346.8 L206.0,346.4 L204.5,345.9 L203.2,345.0 L201.6,345.1 L200.0,345.0 L198.0,344.7 L196.0,344.4 L194.0,344.0 L192.0,344.0 L190.8,342.8 L188.9,342.6 L188.0,341.0 L186.7,339.5 L184.9,338.6 L183.0,338.0 L181.1,338.1 L179.5,338.9 L178.0,340.0 L176.4,340.0 L174.8,339.8 L173.1,340.0 L171.6,339.0 L170.0,339.0 L168.6,339.9 L167.1,340.2 L165.6,340.2 L164.0,340.0 L163.4,341.8 L162.0,343.0 L162.6,344.6 L163.4,346.2 L163.0,348.0 L161.0,347.0 L159.9,348.5 L158.0,348.6 L156.7,349.8 L155.0,350.0 L153.1,349.8 L151.6,348.6 L150.0,347.6 L148.3,347.4 L147.7,345.4 L146.0,345.0 L144.8,343.5 L142.9,342.7 L142.0,341.0 L140.7,339.9 L139.8,338.5 L139.0,337.0 L137.6,336.2 L136.1,335.5 L135.6,333.6 L134.0,333.0 L133.1,331.5 L131.3,331.4 L130.0,330.5 L128.5,329.3 L127.0,328.0 L125.2,327.8 L123.7,327.1 L122.4,326.0 L121.0,325.0 L119.2,324.7 L117.9,323.2 L116.0,323.0 L114.2,322.5 L113.0,321.0 L111.3,319.3 L111.0,317.0 L109.9,315.4 L108.0,315.0 L106.0,314.0 L104.0,313.0 L102.8,311.2 L102.6,309.0 L102.8,307.3 L102.0,305.5 L102.9,303.8 L103.0,302.0 L102.0,300.0 L100.0,299.0 L98.3,297.5 L96.0,297.0 L94.4,296.6 L92.6,297.1 L91.0,296.6 L89.0,296.5 L87.0,296.0 L85.2,295.4 L84.0,294.0 L82.0,292.0 L80.3,292.6 L79.0,294.0 L78.5,295.5 L78.0,297.0 L76.7,297.9 L76.0,299.4 L74.5,299.7 L73.0,299.4 L71.7,298.5 L71.0,297.0 L70.4,295.1 L69.7,293.3 L68.0,292.0 L67.5,289.7 L66.0,288.0 L66.5,286.0 L66.0,284.0 L64.7,283.0 L63.0,283.0 L62.3,281.3 L61.0,280.0 L59.2,278.8 L58.0,277.0 L56.3,276.3 L54.6,275.9 L53.0,275.0 L51.5,275.8 L50.0,275.8 L48.5,275.4 L47.0,275.0 L45.5,275.3 L44.0,274.5 L42.5,274.0 L41.0,274.6 L39.5,275.4 L38.0,276.0 L36.0,276.8 L35.0,278.6 L33.9,277.1 L32.0,277.0 L30.6,275.7 L28.6,275.9 L27.0,275.0 L25.4,275.0 L23.9,274.6 L22.4,274.3 L21.0,273.4 L19.1,273.6 L17.4,272.7 L15.5,272.6" fill="none" stroke="#2a2a2a" stroke-width="1" shape-rendering="crispEdges"/>
<path d="M311.1,317.1 L312.4,316.8 L313.5,316.0 L314.5,315.0 L315.5,314.1 L316.6,313.4 L317.9,313.0 L318.8,314.0 L320.2,314.3 L320.9,315.3 L321.8,316.3 L323.4,318.0" fill="none" stroke="#222" stroke-width="1" shape-rendering="crispEdges"/><path d="M322.5,320.7 L323.9,320.2 L325.2,319.3 L326.9,319.1 L328.4,319.8 L327.5,320.8 L326.1,321.1 L323.8,321.6" fill="none" stroke="#222" stroke-width="1" shape-rendering="crispEdges"/><path d="M319.6,323.8 L319.3,326.0 L318.9,327.4 L318.9,328.9 L318.0,329.9 L317.0,330.7 L317.6,331.8 L316.9,333.2 L317.5,334.3 L317.4,336.1 L317.5,337.9" fill="none" stroke="#222" stroke-width="1" shape-rendering="crispEdges"/><path d="M305.3,328.0 L305.1,329.5 L306.0,331.0 L305.7,332.5 L306.3,334.0 L307.5,335.2 L308.9,335.8 L309.8,337.0 L309.3,338.4" fill="none" stroke="#222" stroke-width="1" shape-rendering="crispEdges"/><path d="M306.2,319.8 L305.8,321.4 L306.2,323.0" fill="none" stroke="#222" stroke-width="1" shape-rendering="crispEdges"/><path d="M313.0,341.5 L314.4,342.0 L315.7,342.5" fill="none" stroke="#222" stroke-width="1" shape-rendering="crispEdges"/>
<path d="M393.8,252.2 L394.8,251.5 L396.0,251.6 L397.3,252.3 L398.2,253.4 L399.3,254.1 L400.6,254.2 L401.1,255.4 L400.2,256.4 L399.3,256.9 L398.4,257.6 L397.4,256.9 L396.6,256.0 L395.0,255.2 L394.0,254.5 L394.0,253.3 L393.8,252.2" fill="#666" stroke="#111" stroke-width="1"/><path d="M394.0,269.5 L395.4,269.3 L396.8,268.8 L397.1,270.0 L397.4,271.2 L397.2,272.7 L396.0,273.6 L395.0,272.8 L393.8,273.2 L394.2,272.0 L394.5,270.8 L394.0,269.5" fill="#666" stroke="#111" stroke-width="1"/><path d="M399.0,259.0 L399.2,260.3 L398.6,261.4 L398.0,262.5 L398.4,263.9 L397.6,265.0" fill="none" stroke="#111" stroke-width="1"/><path d="M420.5,228.4 L419.0,229.1 L417.9,230.3 L416.9,231.9 L415.5,233.3 L414.9,234.7 L413.7,235.7 L413.2,236.9 L412.5,238.1 L411.6,239.9 L410.7,242.3 L409.5,244.0" fill="none" stroke="#333" stroke-width="1" shape-rendering="crispEdges"/>
<path d="M423.5,222.8 L425.5,221.2 L427.5,222 L429.5,220.9 L431.5,221.8 L433.3,222.6 L431.8,223.9 L429.5,223.2 L427.2,224.6 L425,223.6 Z" fill="#fff" stroke="#111" stroke-width="0.9"/>
<path d="M0.5,49.5 H679.5 V407.5 H0.5 Z M526.5,49.5 V407.5" fill="none" stroke="#777" stroke-width="1"/>
<text x="575" y="121.5" class="tt" textLength="56.8" lengthAdjust="spacingAndGlyphs" style="font-size:9.6px;stroke-width:0.3px">Rainfall (mm)</text>
<rect x="571" y="135" width="27" height="20" fill="#FF4E92"/>
<rect x="571" y="155" width="27" height="21" fill="#FF00FF"/>
<rect x="571" y="176" width="27" height="20" fill="#A000FF"/>
<rect x="571" y="196" width="27" height="20" fill="#4040FF"/>
<rect x="571" y="216" width="27" height="20" fill="#00A0FF"/>
<rect x="571" y="236" width="27" height="21" fill="#00E49C"/>
<rect x="571" y="257" width="27" height="20" fill="#50FC00"/>
<rect x="571" y="277" width="27" height="20" fill="#B2FC00"/>
<rect x="571" y="297" width="27" height="21" fill="#FFFF00"/>
<rect x="571" y="318" width="27" height="20" fill="#FFAC00"/>
<rect x="571" y="338" width="27" height="20" fill="#FFBE5C"/>
<rect x="571" y="358" width="27" height="21" fill="#FFFFFF"/>
<rect x="571" y="379" width="27" height="20" fill="#D6D6D6"/>
<line x1="571" x2="598" y1="155.5" y2="155.5" stroke="#3a2020" stroke-opacity="0.7" stroke-width="1"/>
<line x1="571" x2="598" y1="176.5" y2="176.5" stroke="#3a2020" stroke-opacity="0.7" stroke-width="1"/>
<line x1="571" x2="598" y1="196.5" y2="196.5" stroke="#3a2020" stroke-opacity="0.7" stroke-width="1"/>
<line x1="571" x2="598" y1="216.5" y2="216.5" stroke="#3a2020" stroke-opacity="0.7" stroke-width="1"/>
<line x1="571" x2="598" y1="236.5" y2="236.5" stroke="#3a2020" stroke-opacity="0.7" stroke-width="1"/>
<line x1="571" x2="598" y1="257.5" y2="257.5" stroke="#3a2020" stroke-opacity="0.7" stroke-width="1"/>
<line x1="571" x2="598" y1="277.5" y2="277.5" stroke="#3a2020" stroke-opacity="0.7" stroke-width="1"/>
<line x1="571" x2="598" y1="297.5" y2="297.5" stroke="#3a2020" stroke-opacity="0.7" stroke-width="1"/>
<line x1="571" x2="598" y1="318.5" y2="318.5" stroke="#3a2020" stroke-opacity="0.7" stroke-width="1"/>
<line x1="571" x2="598" y1="338.5" y2="338.5" stroke="#3a2020" stroke-opacity="0.7" stroke-width="1"/>
<line x1="570.5" x2="598.5" y1="135.5" y2="135.5" stroke="#555" stroke-width="1"/>
<line x1="570.5" x2="570.5" y1="135" y2="359" stroke="#999" stroke-width="1"/>
<line x1="598.5" x2="598.5" y1="135" y2="359" stroke="#999" stroke-width="1"/>
<path d="M570.5,358.5 H598.5 M570.5,379.5 H598.5" stroke="#999" stroke-width="1"/>
<path d="M570.5,358 V397 Q570.5,398.5 572,398.5 H597 Q598.5,398.5 598.5,397 V358" fill="none" stroke="#999" stroke-width="1"/>
<text x="621.7" y="159.6" text-anchor="middle" class="lg" transform="translate(621.7 0) scale(0.95 1) translate(-621.7 0)">400 mm</text>
<text x="621.7" y="179.9" text-anchor="middle" class="lg" transform="translate(621.7 0) scale(0.95 1) translate(-621.7 0)">300 mm</text>
<text x="621.7" y="200.2" text-anchor="middle" class="lg" transform="translate(621.7 0) scale(0.95 1) translate(-621.7 0)">200 mm</text>
<text x="621.7" y="220.5" text-anchor="middle" class="lg" transform="translate(621.7 0) scale(0.95 1) translate(-621.7 0)">150 mm</text>
<text x="621.7" y="240.8" text-anchor="middle" class="lg" transform="translate(621.7 0) scale(0.95 1) translate(-621.7 0)">100 mm</text>
<text x="621.7" y="261.1" text-anchor="middle" class="lg" transform="translate(621.7 0) scale(0.95 1) translate(-621.7 0)">50 mm</text>
<text x="621.7" y="281.4" text-anchor="middle" class="lg" transform="translate(621.7 0) scale(0.95 1) translate(-621.7 0)">25 mm</text>
<text x="621.7" y="301.7" text-anchor="middle" class="lg" transform="translate(621.7 0) scale(0.95 1) translate(-621.7 0)">15 mm</text>
<text x="621.7" y="322.0" text-anchor="middle" class="lg" transform="translate(621.7 0) scale(0.95 1) translate(-621.7 0)">10 mm</text>
<text x="621.7" y="342.3" text-anchor="middle" class="lg" transform="translate(621.7 0) scale(0.95 1) translate(-621.7 0)">5 mm</text>
<text x="621.7" y="362.6" text-anchor="middle" class="lg" transform="translate(621.7 0) scale(0.95 1) translate(-621.7 0)">1 mm</text>
<text x="621.7" y="382.9" text-anchor="middle" class="lg" transform="translate(621.7 0) scale(0.95 1) translate(-621.7 0)">0 mm</text>
<text x="621.7" y="392.8" text-anchor="middle" class="lg" transform="translate(621.7 0) scale(0.95 1) translate(-621.7 0)">No Data</text>
<text x="4.4" y="403.5" class="tt" textLength="77.6" lengthAdjust="spacingAndGlyphs" style="font-size:7.8px;stroke-width:0.4px">http://www.bom.gov.au</text>
<circle cx="3.6" cy="413.7" r="3.5" fill="#111"/><path d="M5.3,412.5 A1.8,1.8 0 1 0 5.3,414.9" fill="none" stroke="#fff" stroke-width="1"/><text x="8.8" y="416.8" class="tt" textLength="228.9" lengthAdjust="spacingAndGlyphs" style="font-size:7.7px;stroke-width:0.4px">Commonwealth of Australia 2011, Australian Bureau of Meteorology</text>
<text x="615" y="416.8" class="tt" textLength="63" lengthAdjust="spacingAndGlyphs" style="font-size:7.6px;stroke-width:0.4px">Issued: 03/02/2011</text>
</svg>
</body></html>
